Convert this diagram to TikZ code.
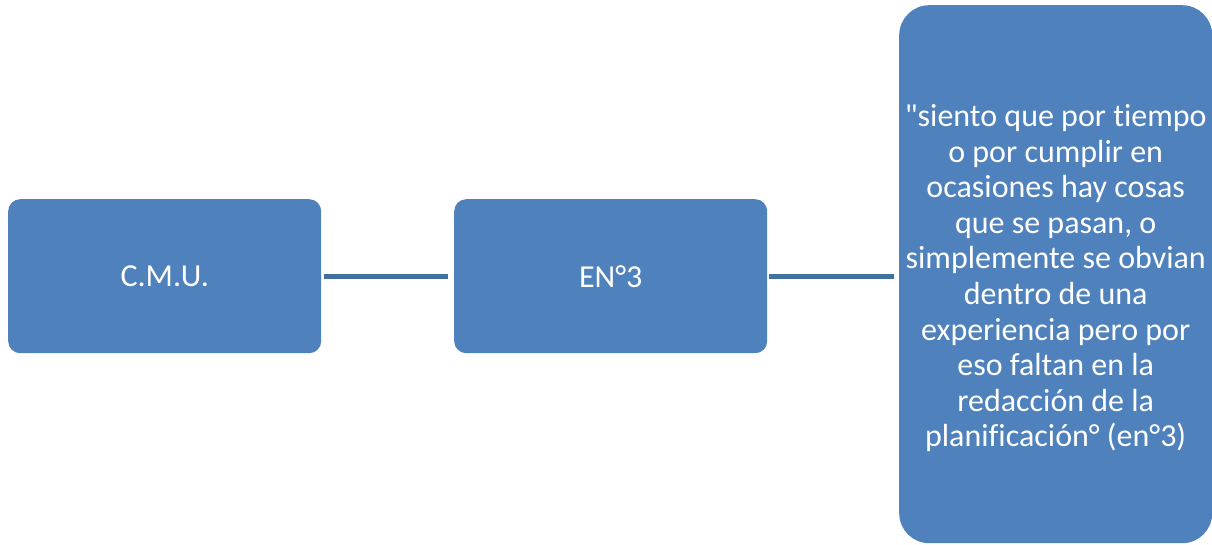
\documentclass[tikz,border=0pt]{standalone}
\usepackage{fontspec}
\newfontfamily\calf{Carlito}[Ligatures={NoCommon}]
\definecolor{boxfill}{HTML}{4F81BD}
\definecolor{linecol}{HTML}{41719C}
\begin{document}
\begin{tikzpicture}[x=1pt,y=-1pt,
  bx/.style={fill=boxfill, draw=none, rounded corners=12pt, text=white, align=center,
    font=\calf\fontsize{32}{35.6}\selectfont, inner sep=0pt},
  txt/.style={text=white, align=center, font=\calf\fontsize{32}{35.6}\selectfont, inner sep=0pt},
  conn/.style={draw=linecol, line width=5pt}]
\useasboundingbox (0,0) rectangle (1212,544);
\node[bx, minimum width=313pt, minimum height=154pt, anchor=north west] (a) at (8,199) {C.M.U.};
\node[bx, minimum width=313pt, minimum height=154pt, anchor=north west] (b) at (454,199) {EN°3};
\node[bx, rounded corners=30pt, minimum width=313pt, minimum height=538pt, anchor=north west] (c) at (899,5) {};
\node[txt] (ct) at ([yshift=-4pt]c.center)
 {"siento que por tiempo\\o por cumplir en\\ocasiones hay cosas\\que se pasan, o\\simplemente se obvian\\dentro de una\\experiencia pero por\\eso faltan en la\\redacción de la\\planificación° (en°3)};
\draw[conn] ([xshift=3pt]a.east) -- ([xshift=-6pt]b.west);
\draw[conn] ([xshift=2pt]b.east) -- ([xshift=-5pt]c.west |- b.east);
\end{tikzpicture}
\end{document}
